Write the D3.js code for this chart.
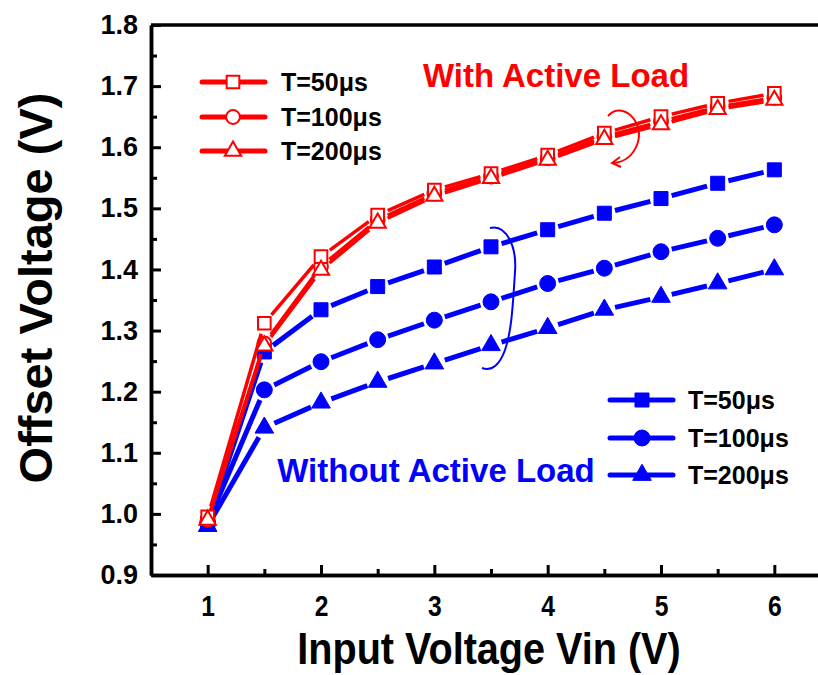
<!DOCTYPE html>
<html>
<head>
<meta charset="utf-8">
<script src="https://cdn.jsdelivr.net/npm/d3@7/dist/d3.min.js"></script>
<style>
  html, body { margin: 0; padding: 0; background: #fff; }
  svg { display: block; }
  text { font-family: "Liberation Sans", Arial, Helvetica, sans-serif; font-weight: bold; }
</style>
</head>
<body>
<svg id="chart" width="818" height="675"></svg>
<script>
// Input voltage sweep (V)
const vin = [1, 1.5, 2, 2.5, 3, 3.5, 4, 4.5, 5, 5.5, 6];

// Offset voltage (V) with active load
const withLoad50  = [0.995, 1.312, 1.421, 1.489, 1.530, 1.557, 1.587, 1.623, 1.650, 1.672, 1.688];
const withLoad100 = [0.990, 1.279, 1.405, 1.481, 1.524, 1.552, 1.582, 1.617, 1.642, 1.666, 1.681];
const withLoad200 = [0.990, 1.275, 1.399, 1.476, 1.520, 1.549, 1.579, 1.613, 1.637, 1.662, 1.677];

// Offset voltage (V) without active load
const noLoad50  = [0.985, 1.265, 1.334, 1.372, 1.404, 1.437, 1.465, 1.492, 1.516, 1.541, 1.563];
const noLoad100 = [0.985, 1.203, 1.249, 1.285, 1.317, 1.347, 1.377, 1.402, 1.429, 1.451, 1.473];
const noLoad200 = [0.980, 1.141, 1.182, 1.216, 1.246, 1.276, 1.304, 1.334, 1.355, 1.377, 1.400];

// Axis ticks
const xTicks = [1, 2, 3, 4, 5, 6];
const xMinor = [1.5, 2.5, 3.5, 4.5, 5.5];
const yTicks = [0.9, 1.0, 1.1, 1.2, 1.3, 1.4, 1.5, 1.6, 1.7, 1.8];
const yMinor = [0.95, 1.05, 1.15, 1.25, 1.35, 1.45, 1.55, 1.65, 1.75];

const legendLabels = ["T=50\u03bcs", "T=100\u03bcs", "T=200\u03bcs"];

const RED = "#ff0000", BLUE = "#0000ff";

const svg = d3.select("#chart");
const x = d3.scaleLinear().domain([0.5, 6.5]).range([151, 831]);
const y = d3.scaleLinear().domain([0.9, 1.8]).range([575, 25]);

// ---- frame (the right side falls beyond the canvas) ----
svg.append("line").attr("x1", x(0.5)).attr("x2", x(6.5)).attr("y1", y(1.8)).attr("y2", y(1.8))
  .attr("stroke", "#000").attr("stroke-width", 3.5);
svg.append("line").attr("x1", x(6.5)).attr("x2", x(6.5)).attr("y1", y(1.8)).attr("y2", y(0.9))
  .attr("stroke", "#000").attr("stroke-width", 3.5);

// ---- axes with inward ticks ----
const fmt = d3.format(".1f");
const gy = svg.append("g").attr("transform", `translate(${x(0.5)},0)`)
  .call(d3.axisLeft(y).tickValues(yTicks).tickFormat(fmt).tickSize(-10).tickSizeOuter(0).tickPadding(13));
const gyMinor = svg.append("g").attr("transform", `translate(${x(0.5)},0)`)
  .call(d3.axisLeft(y).tickValues(yMinor).tickFormat("").tickSize(-6).tickSizeOuter(0));
const gx = svg.append("g").attr("transform", `translate(0,${y(0.9)})`)
  .call(d3.axisBottom(x).tickValues(xTicks).tickFormat(d3.format("d")).tickSize(-10).tickSizeOuter(0).tickPadding(20));
const gxMinor = svg.append("g").attr("transform", `translate(0,${y(0.9)})`)
  .call(d3.axisBottom(x).tickValues(xMinor).tickFormat("").tickSize(-6).tickSizeOuter(0));

[gy, gyMinor, gx, gxMinor].forEach(g => {
  g.select(".domain").attr("stroke", "#000").attr("stroke-width", 3.5);
  g.selectAll(".tick line").attr("stroke", "#000").attr("stroke-width", 3);
});
gy.selectAll(".tick text").attr("font-size", 27).attr("fill", "#000")
  .style("font-family", "'Liberation Sans', Arial, sans-serif").style("font-weight", "bold");
gx.selectAll(".tick text").attr("font-size", 29).attr("fill", "#000")
  .attr("transform", "scale(0.85,1)")
  .style("font-family", "'Liberation Sans', Arial, sans-serif").style("font-weight", "bold");

// ---- axis titles ----
svg.append("g").attr("transform", "translate(489,664) scale(0.88,1)")
  .append("text").attr("text-anchor", "middle").attr("font-size", 45).attr("fill", "#000")
  .text("Input Voltage Vin (V)");
svg.append("text").attr("transform", "translate(52,288) rotate(-90)")
  .attr("text-anchor", "middle").attr("font-size", 47).attr("fill", "#000")
  .text("Offset Voltage (V)");

// ---- marker shapes ----
const shapes = {
  square:   d3.symbolSquare,
  circle:   d3.symbolCircle,
  triangle: d3.symbolTriangle
};
const filledSize = { square: 196, circle: 200, triangle: 150 };
const openSize   = { square: 160, circle: 150, triangle: 115 };

function drawMarker(g, cx, cy, shape, color, filled) {
  g.append("path")
    .attr("d", d3.symbol().type(shapes[shape]).size(filled ? filledSize[shape] : openSize[shape])())
    .attr("transform", `translate(${cx},${cy})`)
    .attr("fill", filled ? color : "#fff")
    .attr("stroke", color)
    .attr("stroke-width", filled ? 1 : 2);
}

// line segments leave a small gap around each marker
const GAP = 11;
function drawSeries(values, shape, color, filled, width) {
  const g = svg.append("g");
  const pts = vin.map((v, i) => [x(v), y(values[i])]);
  for (let i = 0; i < pts.length - 1; i++) {
    const [x1, y1] = pts[i], [x2, y2] = pts[i + 1];
    const len = Math.hypot(x2 - x1, y2 - y1);
    const ux = (x2 - x1) / len, uy = (y2 - y1) / len;
    g.append("line")
      .attr("x1", x1 + ux * GAP).attr("y1", y1 + uy * GAP)
      .attr("x2", x2 - ux * GAP).attr("y2", y2 - uy * GAP)
      .attr("stroke", color).attr("stroke-width", width).attr("stroke-linecap", "butt");
  }
  pts.forEach(([px, py]) => drawMarker(g, px, py, shape, color, filled));
}

drawSeries(noLoad200, "triangle", BLUE, true, 5);
drawSeries(noLoad100, "circle", BLUE, true, 5);
drawSeries(noLoad50, "square", BLUE, true, 5);
drawSeries(withLoad100, "circle", RED, false, 3.5);
drawSeries(withLoad50, "square", RED, false, 3.5);
drawSeries(withLoad200, "triangle", RED, false, 3.5);

// ---- legends ----
function legend(x0, x1, xm, xt, rows, color, filled) {
  const shapeList = ["square", "circle", "triangle"];
  rows.forEach((ry, i) => {
    const g = svg.append("g");
    g.append("line").attr("x1", x0).attr("x2", x1).attr("y1", ry).attr("y2", ry)
      .attr("stroke", color).attr("stroke-width", 5).attr("stroke-linecap", "round");
    drawMarker(g, xm, ry, shapeList[i], color, filled);
    g.append("text").attr("x", xt).attr("y", ry + 9).attr("font-size", 25).attr("fill", "#000")
      .text(legendLabels[i]);
  });
}
legend(202, 265, 233, 281, [82, 117, 151], RED, false);
legend(610, 673, 642, 688, [400, 438, 475], BLUE, true);

// ---- group annotations ----
svg.append("text").attr("x", 556).attr("y", 87).attr("text-anchor", "middle")
  .attr("font-size", 33).attr("fill", RED).text("With Active Load");
svg.append("text").attr("x", 436).attr("y", 482).attr("text-anchor", "middle")
  .attr("font-size", 33).attr("fill", BLUE).text("Without Active Load");

// bracket around the red curves, ending in a small arrow head
svg.append("path")
  .attr("d", "M608,116 C622,100 646,122 637,145 C632,157 624,162 614,163")
  .attr("fill", "none").attr("stroke", RED).attr("stroke-width", 2);
svg.append("path")
  .attr("d", "M620,157 L612,163 L621,167")
  .attr("fill", "none").attr("stroke", RED).attr("stroke-width", 2);

// bracket around the blue curves
svg.append("path")
  .attr("d", "M490,228 C506,224 517,246 515,272 C513,302 512,330 505,350 C500,364 492,372 482,368")
  .attr("fill", "none").attr("stroke", BLUE).attr("stroke-width", 2);
</script>
</body>
</html>
